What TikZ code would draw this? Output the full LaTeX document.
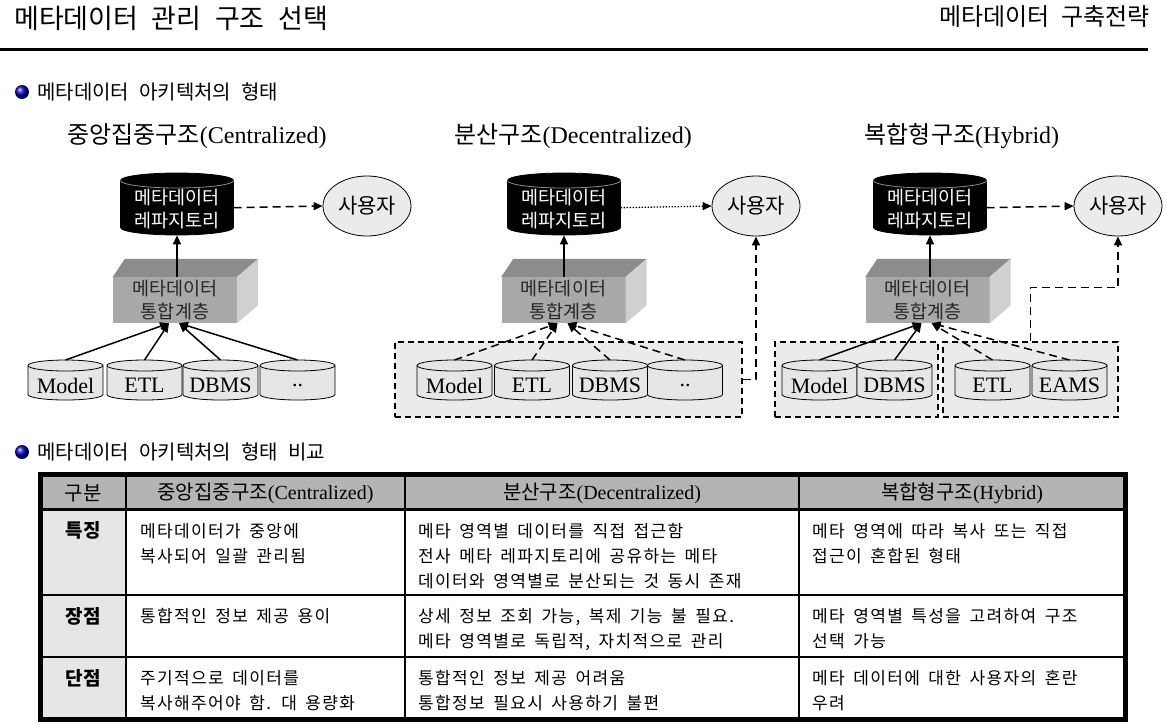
\documentclass[tikz,border=0pt]{standalone}
\usepackage{fontspec}
\setmainfont{Noto Sans CJK KR}
\newfontfamily\lat{Liberation Serif}
\newfontfamily\kcell[LetterSpace=8]{Noto Sans CJK KR}
\usetikzlibrary{shapes.geometric,arrows.meta,calc}
\newcommand\fsz[3]{\fontsize{#1}{#2}\selectfont\spaceskip=#3em\relax}
\definecolor{grpfill}{HTML}{EBEBEB}
\definecolor{srcfill}{HTML}{E6E6E6}
\definecolor{frontc}{HTML}{A9A9A9}
\definecolor{topc}{HTML}{8C8C8C}
\definecolor{sidec}{HTML}{D0D0D0}
\definecolor{hdrc}{HTML}{B4B4B4}
\definecolor{colc}{HTML}{E6E6E6}
\tikzset{
  reposhape/.style={draw=black, fill=black, line width=0.8pt},
  repotext/.style={rectangle, inner sep=0pt, align=center, text=white, font=\fsz{18.5}{23}{.5}},
  srcshape/.style={draw=black, fill=srcfill, line width=0.8pt},
  srctext/.style={rectangle, inner sep=0pt, font=\lat\fontsize{22}{26}\selectfont},
  user/.style={ellipse, draw=black, fill=grpfill, line width=0.8pt, minimum width=88pt,
    minimum height=60pt, inner sep=0pt, font=\fsz{21}{25}{.5}},
  front/.style={rectangle, fill=frontc, minimum width=124pt, minimum height=46pt,
    inner sep=0pt, align=center, text=black!85, font=\fsz{18.5}{23}{.5}},
  grp/.style={rectangle, draw=black, fill=grpfill, line width=2pt, dash pattern=on 6pt off 4pt},
  sarr/.style={-{Triangle[length=9pt,width=8pt]}, line width=1.5pt},
  darr/.style={-{Triangle[length=9pt,width=8pt]}, line width=1.5pt, dash pattern=on 8pt off 5pt},
  oarr/.style={-{Triangle[length=9pt,width=8pt]}, line width=1.3pt, dash pattern=on 1.3pt off 1.7pt},
  head/.style={font=\fsz{24}{28}{.5}, inner sep=0pt},
  hd/.style={font=\fsz{20}{24}{.5}, inner sep=0pt},
  rl/.style={font=\fsz{19}{23}{.5}\bfseries, inner sep=0pt},
  cell/.style={anchor=north west, align=left, inner sep=0pt, font=\kcell\fsz{17}{25}{.5}},
  bul/.style={anchor=west, inner sep=0pt, font=\fsz{20}{24}{.5}}
}
% source cylinder: name, cx, text  (top 360, bottom 400, width 75)
\newcommand\srccyl[3]{%
  \filldraw[srcshape] (#2-37.5,365.5) -- (#2-37.5,394.5)
    arc[start angle=180,end angle=360,x radius=37.5pt,y radius=5.5pt]
    -- (#2+37.5,365.5) arc[start angle=0,end angle=180,x radius=37.5pt,y radius=5.5pt] -- cycle;
  \draw[srcshape,fill=none] (#2-37.5,365.5) arc[start angle=180,end angle=360,x radius=37.5pt,y radius=5.5pt];
  \node[srctext, anchor=north, minimum width=75pt, minimum height=51pt] (#1) at (#2,360) {#3};
}
% repository cylinder: name, cx, text (top 173, bottom 235, width 113)
\newcommand\repocyl[3]{%
  \filldraw[reposhape] (#2-56.5,180.5) -- (#2-56.5,227.5)
    arc[start angle=180,end angle=360,x radius=56.5pt,y radius=7.5pt]
    -- (#2+56.5,180.5) arc[start angle=0,end angle=180,x radius=56.5pt,y radius=7.5pt] -- cycle;
  \draw[draw=black!45, line width=0.8pt] (#2-56.5,180.5) arc[start angle=180,end angle=360,x radius=56.5pt,y radius=7.5pt];
  \node[repotext, anchor=north, minimum width=113pt, minimum height=72pt] (#1) at (#2,173) {#3};
}
\newcommand\intbox[4]{% name, x, y, text
  \node[front] (#1) at (#2,#3) {#4};
  \fill[topc] (#1.north west) -- ++(12,-18) -- ($(#1.north east)+(21,-18)$) -- (#1.north east) -- cycle;
  \fill[sidec] (#1.north east) -- ++(21,-18) -- ($(#1.south east)+(21,-18)$) -- (#1.south east) -- cycle;
}
\begin{document}
\begin{tikzpicture}[x=1pt,y=-1pt]
\useasboundingbox[fill=white] (0,0) rectangle (1167,726);
% titles
\node[anchor=west, inner sep=0pt, font=\fsz{27}{32}{.5}] (title) at (14,18) {메타데이터 관리 구조 선택};
\node[anchor=east, inner sep=0pt, font=\fsz{24}{28}{.5}] (subtitle) at (1150,16) {메타데이터 구축전략};
\draw[line width=3pt] (0,49) -- (1148,49);
% bullet 1
\shade[ball color=blue!70!black] (22,92) circle (7pt);
\node[bul] (b1) at (37,92) {메타데이터 아키텍처의 형태};
% subheadings
\node[head] (h1) at (197,136) {중앙집중구조{\lat(Centralized)}};
\node[head] (h2) at (573,136) {분산구조{\lat(Decentralized)}};
\node[head] (h3) at (962,136) {복합형구조{\lat(Hybrid)}};

% ===== Diagram 1 =====
\repocyl{r1}{177}{메타데이터\\레파지토리}
\node[user] (u1) at (367,206) {사용자};
\intbox{i1}{175}{300}{메타데이터\\통합계층}
\srccyl{s1a}{65.5}{Model}
\srccyl{s1b}{144.5}{ETL}
\srccyl{s1c}{220.5}{DBMS}
\srccyl{s1d}{297.5}{..}
\coordinate (i1l) at ($(i1.south)+(-6,0)$);
\coordinate (i1r) at ($(i1.south)+(4,0)$);
\draw[sarr] (s1a.north) -- (i1l);
\draw[sarr] (s1b.north) -- (i1l);
\draw[sarr] (s1c.north) -- (i1r);
\draw[sarr] (s1d.north) -- (i1r);
\draw[sarr] (i1.north -| r1.south) -- ([yshift=10pt]r1.south);
\draw[darr] ([yshift=1.5pt]r1.east) -- (u1.west);

% ===== Diagram 2 =====
\node[grp, minimum width=347pt, minimum height=75pt] (g2) at (568.5,379.5) {};
\repocyl{r2}{564}{메타데이터\\레파지토리}
\node[user] (u2) at (756,206) {사용자};
\intbox{i2}{563.5}{300}{메타데이터\\통합계층}
\srccyl{s2a}{454.5}{Model}
\srccyl{s2b}{532}{ETL}
\srccyl{s2c}{610}{DBMS}
\srccyl{s2d}{685}{..}
\coordinate (i2l) at ($(i2.south)+(-6,0)$);
\coordinate (i2r) at ($(i2.south)+(4,0)$);
\draw[darr] (s2a.north) -- (i2l);
\draw[darr] (s2b.north) -- (i2l);
\draw[darr] (s2c.north) -- (i2r);
\draw[darr] (s2d.north) -- (i2r);
\draw[sarr] (i2.north -| r2.south) -- ([yshift=10pt]r2.south);
\draw[oarr] ([yshift=1.5pt]r2.east) -- (u2.west);
\draw[darr] (g2.east) -| (u2.south);

% ===== Diagram 3 =====
\node[grp, minimum width=163pt, minimum height=75pt] (g3l) at (856.5,379.5) {};
\node[grp, minimum width=175pt, minimum height=75pt] (g3r) at (1030.5,379.5) {};
\repocyl{r3}{930}{메타데이터\\레파지토리}
\node[user] (u3) at (1118,206) {사용자};
\intbox{i3}{927.5}{300}{메타데이터\\통합계층}
\srccyl{s3a}{819.5}{Model}
\srccyl{s3b}{894.5}{DBMS}
\srccyl{s3c}{992.5}{ETL}
\srccyl{s3d}{1069.5}{EAMS}
\coordinate (i3l) at ($(i3.south)+(-6,0)$);
\coordinate (i3r) at ($(i3.south)+(4,0)$);
\draw[sarr] (s3a.north) -- (i3l);
\draw[sarr] (s3b.north) -- (i3l);
\draw[darr] (s3c.north) -- (i3r);
\draw[darr] (s3d.north) -- (i3r);
\draw[sarr] (i3.north -| r3.south) -- ([yshift=10pt]r3.south);
\draw[darr] ([yshift=1.5pt]r3.east) -- (u3.west);
\draw[darr] (g3r.north) |- ($(u3.south)+(0,51)$) -- (u3.south);

% bullet 2
\shade[ball color=blue!70!black] (22,452) circle (7pt);
\node[bul] (b2) at (37,452) {메타데이터 아키텍처의 형태 비교};

% ===== Table =====
\fill[hdrc] (40,474.5) rectangle (1125.5,509.5);
\fill[colc] (40,509.5) rectangle (126,719);
\draw[line width=2.5pt] (40,509.5) -- (1125.5,509.5);
\draw[line width=2.5pt] (40,595) -- (1125.5,595);
\draw[line width=2.5pt] (40,657) -- (1125.5,657);
\draw[line width=2.5pt] (126,474.5) -- (126,719);
\draw[line width=2.5pt] (405,474.5) -- (405,719);
\draw[line width=2.5pt] (799,474.5) -- (799,719);
\draw[line width=5pt] (40,474.5) rectangle (1125.5,719);

\node[hd] (t00) at (83,493.5) {구분};
\node[hd] (t01) at (265.5,493.5) {중앙집중구조{\lat(Centralized)}};
\node[hd] (t02) at (602,493.5) {분산구조{\lat(Decentralized)}};
\node[hd] (t03) at (962,493.5) {복합형구조{\lat(Hybrid)}};

\node[rl] (t10) at (83,530) {특징};
\node[rl] (t20) at (83,616) {장점};
\node[rl] (t30) at (83,678) {단점};

\node[cell] (t11) at (140,523) {메타데이터가 중앙에\\복사되어 일괄 관리됨};
\node[cell] (t12) at (418,523) {메타 영역별 데이터를 직접 접근함\\전사 메타 레파지토리에 공유하는 메타\\데이터와 영역별로 분산되는 것 동시 존재};
\node[cell] (t13) at (812,523) {메타 영역에 따라 복사 또는 직접\\접근이 혼합된 형태};

\node[cell] (t21) at (140,608) {통합적인 정보 제공 용이};
\node[cell] (t22) at (418,608) {상세 정보 조회 가능, 복제 기능 불 필요.\\메타 영역별로 독립적, 자치적으로 관리};
\node[cell] (t23) at (812,608) {메타 영역별 특성을 고려하여 구조\\선택 가능};

\node[cell] (t31) at (140,670) {주기적으로 데이터를\\복사해주어야 함. 대 용량화};
\node[cell] (t32) at (418,670) {통합적인 정보 제공 어려움\\통합정보 필요시 사용하기 불편};
\node[cell] (t33) at (812,670) {메타 데이터에 대한 사용자의 혼란\\우려};
\end{tikzpicture}
\end{document}
